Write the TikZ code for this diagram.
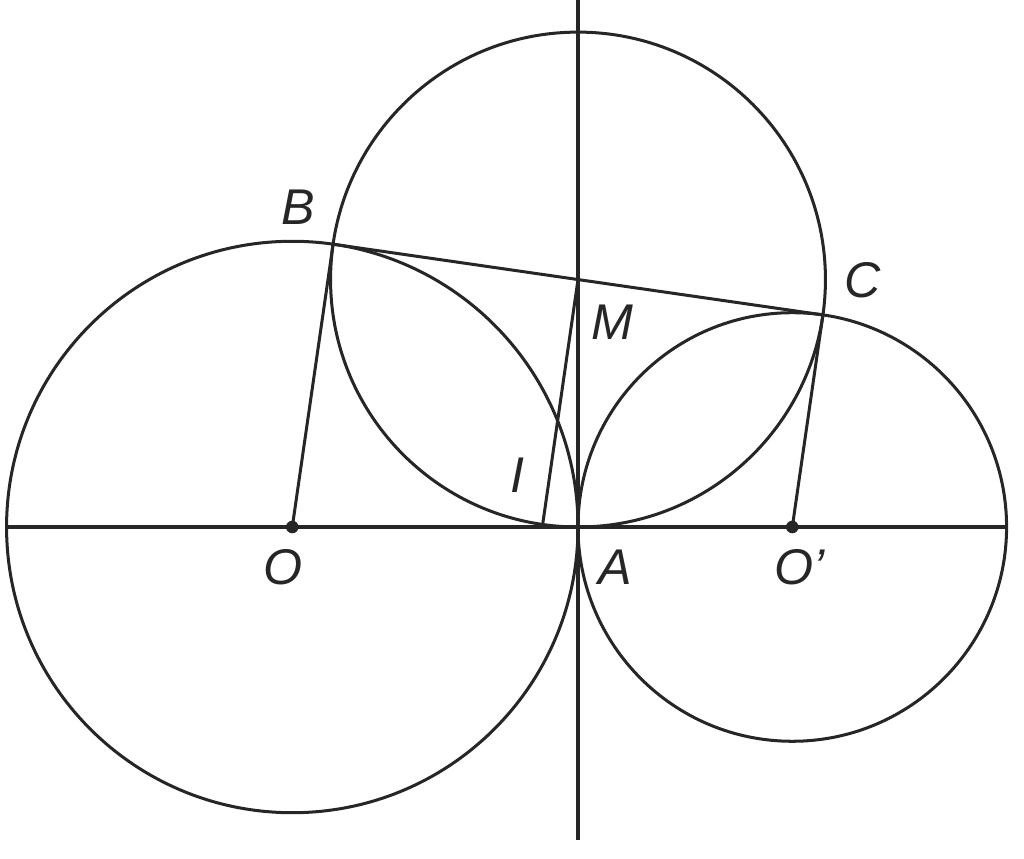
\documentclass[tikz,border=0pt]{standalone}
\usepackage{fontspec}
\setmainfont{Liberation Sans}
\usepackage{tikz}
\usetikzlibrary{calc}

\begin{document}
\begin{tikzpicture}[
    line width=1.2pt,
    color=black!85,
    lbl/.style={font=\fontsize{20}{24}\selectfont\itshape, inner sep=0pt},
    dot/.style={circle, fill, inner sep=0pt, minimum size=5pt}
]
    \useasboundingbox (-8.092,-4.648) rectangle (6.244,7.378);

    % points
    \coordinate (A) at (0,0);
    \coordinate (O) at (-4,0);
    \coordinate (Op) at (3,0);
    \coordinate (M) at (0,{2*sqrt(3)});
    \coordinate (B) at ({-4+4/7},{4*sqrt(48)/7});
    \coordinate (C) at ({3+3/7},{3*sqrt(48)/7});
    \coordinate (I) at (-0.5,0);
    \coordinate (left) at (-8,0);
    \coordinate (right) at (6,0);
    \coordinate (top) at (0,7.378);
    \coordinate (bottom) at (0,-4.38);

    % circles
    \draw (O) circle (4);
    \draw (Op) circle (3);
    \draw (M) circle ({2*sqrt(3)});

    % lines
    \draw (left) -- (right);
    \draw (top) -- (bottom);
    \draw (B) -- (C);
    \draw (O) -- (B);
    \draw (Op) -- (C);
    \draw (M) -- (I);

    \node[dot] (dO) at (O) {};
    \node[dot] (dOp) at (Op) {};

    % labels
    \node[lbl] (lB) at (-3.92,4.47) {B};
    \node[lbl] (lC) at (3.98,3.46) {C};
    \node[lbl] (lM) at (0.48,2.86) {M};
    \node[lbl] (lI) at (-0.85,0.73) {I};
    \node[lbl] (lA) at (0.52,-0.57) {A};
    \node[lbl] (lO) at (-4.13,-0.57) {O};
    \node[lbl] (lOp) at (3.1,-0.57) {O’};
\end{tikzpicture}
\end{document}
